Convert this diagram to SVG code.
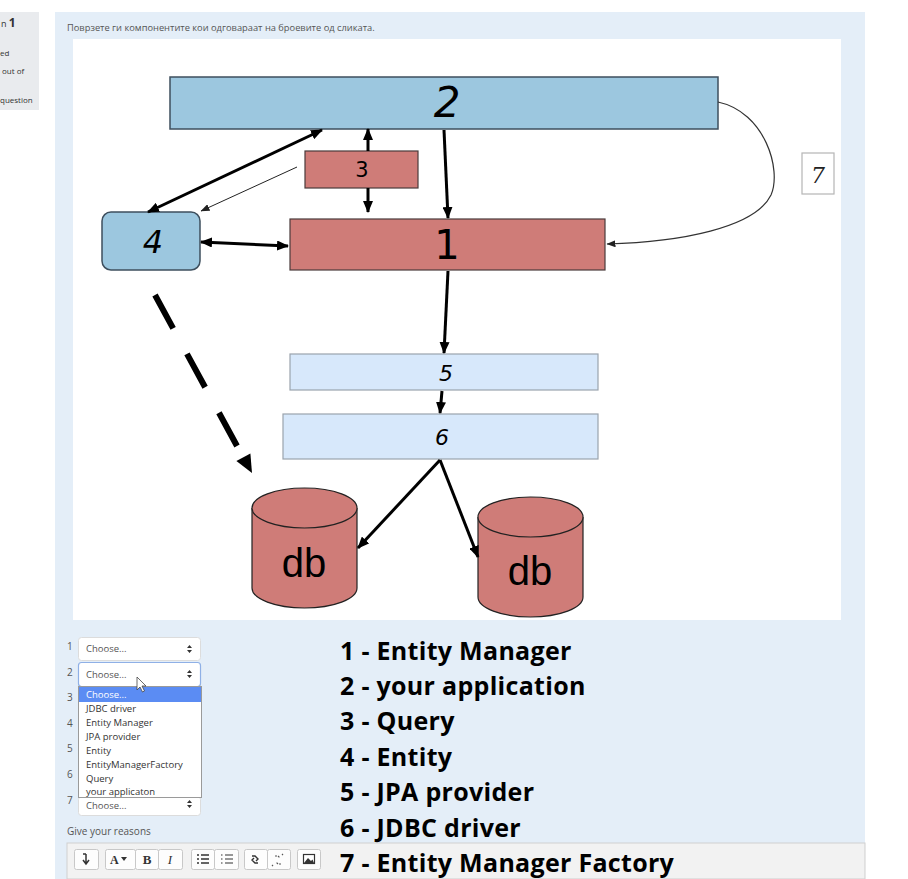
<svg xmlns="http://www.w3.org/2000/svg" width="908" height="879" viewBox="0 0 908 879">
<defs>
<style>
.n2{fill:#9cc7df;stroke:#3e4f5e;stroke-width:1.5}
.nr{fill:#cf7c78;stroke:#4a3b3b;stroke-width:1.2}
.nl{fill:#d7e8fb;stroke:#9aa3ad;stroke-width:1.2}
.lbl{font-family:"DejaVu Sans",sans-serif;fill:#000;text-anchor:middle}
.it{font-style:italic}
.db{fill:#cf7c78;stroke:#222;stroke-width:1.2}
.dbt{font-family:"Liberation Sans",Arial,sans-serif;font-size:40px;fill:#000;text-anchor:middle}
.th{stroke:#000;stroke-width:3;fill:none}
.tn{stroke:#222;stroke-width:1;fill:none}
.frm{font-family:"Open Sans","Noto Sans",sans-serif;font-size:10px;fill:#555}
.ch{font-family:"Open Sans","Noto Sans",sans-serif;font-size:9.5px;fill:#555}
.opt{font-family:"Open Sans","Noto Sans",sans-serif;font-size:9.5px;fill:#333}
.ttl{font-family:"Open Sans","Noto Sans",sans-serif;font-size:9.3px;fill:#555}
.sel{fill:#fff;stroke:#dcdcdc;stroke-width:1}
.big{font-family:"Open Sans","Noto Sans",sans-serif;font-weight:bold;font-size:25px;letter-spacing:0.3px;fill:#000}
.btn{fill:#fdfdfd;stroke:#c8c8c8;stroke-width:1}
</style>
<marker id="a" viewBox="0 0 12 10" refX="11" refY="5" markerWidth="12" markerHeight="10" markerUnits="userSpaceOnUse" orient="auto-start-reverse"><path d="M0,0 L12,5 L0,10 z" fill="#000"/></marker>
<marker id="s" viewBox="0 0 9 7" refX="8.5" refY="3.5" markerWidth="9" markerHeight="7" markerUnits="userSpaceOnUse" orient="auto-start-reverse"><path d="M0,0 L9,3.5 L0,7 z" fill="#222"/></marker>
</defs>

<rect x="0" y="0" width="908" height="879" fill="#fff"/>
<g id="sidebar">
<rect x="0" y="12" width="39" height="98" fill="#e9ebee"/>
<text x="1" y="27" font-family="Open Sans,sans-serif" font-size="9" fill="#333">n <tspan font-weight="bold" font-size="12">1</tspan></text>
<text x="0" y="56" font-family="Open Sans,sans-serif" font-size="8" fill="#333">ed</text>
<text x="2" y="74" font-family="Open Sans,sans-serif" font-size="8" fill="#333">out of</text>
<text x="0" y="103" font-family="Open Sans,sans-serif" font-size="8" fill="#333">question</text>
</g>
<rect x="55" y="12" width="810" height="867" fill="#e4eef8"/>
<text x="67" y="31" class="ttl">Поврзете ги компонентите кои одговараат на броевите од сликата.</text>
<rect x="73" y="39" width="768" height="581" fill="#fff"/>

<g id="node2"><rect x="170" y="77" width="548" height="52" class="n2"/><text x="447" y="117" class="lbl it" font-size="42">2</text></g>
<g id="node3"><rect x="305" y="151" width="113" height="37" class="nr"/><text x="362" y="177" class="lbl" font-size="21">3</text></g>
<g id="node1"><rect x="290" y="219" width="315" height="51" class="nr"/><text x="447" y="259" class="lbl" font-size="40">1</text></g>
<g id="node4"><rect x="102" y="212" width="98" height="58" rx="9" class="n2"/><text x="153" y="253" class="lbl it" font-size="32">4</text></g>
<g id="node5"><rect x="290" y="354" width="308" height="36" class="nl"/><text x="446" y="381" class="lbl it" font-size="22">5</text></g>
<g id="node6"><rect x="283" y="414" width="315" height="45" class="nl"/><text x="442" y="445" class="lbl it" font-size="22">6</text></g>
<g id="node7"><rect x="802" y="153" width="32" height="41" fill="#fff" stroke="#b5b5b5" stroke-width="1.2"/><text x="818" y="183" font-family="DejaVu Serif,serif" font-style="italic" font-size="22" text-anchor="middle" fill="#222">7</text></g>
<g id="db1"><path d="M252,508 L252,588 A52.5,20 0 0 0 357,588 L357,508" class="db"/><ellipse cx="304.5" cy="508" rx="52.5" ry="20" class="db"/><text x="304" y="577" class="dbt">db</text></g>
<g id="db2"><path d="M478,517 L478,597 A52.5,20 0 0 0 583,597 L583,517" class="db"/><ellipse cx="530.5" cy="517" rx="52.5" ry="20" class="db"/><text x="530" y="585" class="dbt">db</text></g>

<g id="connectors">
<path d="M322,130 L148,212" class="th" marker-start="url(#a)" marker-end="url(#a)"/>
<path d="M297,167 L201,211" class="tn" marker-end="url(#s)"/>
<path d="M368,151 L368,129" class="th" marker-end="url(#a)"/>
<path d="M368,188 L368,212" class="th" marker-end="url(#a)"/>
<path d="M201,242 L288,246" class="th" marker-start="url(#a)" marker-end="url(#a)"/>
<path d="M444,130 L448,218" class="th" marker-end="url(#a)"/>
<path d="M448,271 L444,353" class="th" marker-end="url(#a)"/>
<path d="M442,391 L440,413" class="th" marker-end="url(#a)"/>
<path d="M440,460 L358,548" class="th" marker-end="url(#a)"/>
<path d="M440,460 L478,557" class="th" marker-end="url(#a)"/>
<path d="M718,102 C765,112 782,170 771,195 C755,228 680,242 607,244" stroke="#333" stroke-width="1.2" fill="none" marker-end="url(#s)"/>
<path d="M155,295 L237,446" stroke="#000" stroke-width="6" stroke-dasharray="38 29" fill="none"/>
<polygon points="252,473 250.4,453.4 236.4,461" fill="#000"/>
</g>

<g id="form">
<text x="67" y="650" class="frm">1</text>
<text x="67" y="676" class="frm">2</text>
<text x="67" y="701" class="frm">3</text>
<text x="67" y="727" class="frm">4</text>
<text x="67" y="752" class="frm">5</text>
<text x="67" y="778" class="frm">6</text>
<text x="67" y="804" class="frm">7</text>
<rect x="78.5" y="637.5" width="122" height="23" rx="3" class="sel"/>
<text x="86" y="652" class="ch">Choose...</text>
<path d="M187,648 L189.5,645 L192,648 z M187,650 L189.5,653 L192,650 z" fill="#333"/>
<rect x="78.5" y="662.5" width="122" height="24" rx="3" fill="#fff" stroke="#8fb0e6" stroke-width="1.2"/>
<text x="86" y="678" class="ch">Choose...</text>
<path d="M187,673 L189.5,670 L192,673 z M187,675 L189.5,678 L192,675 z" fill="#333"/>
<rect x="78.5" y="796.5" width="122" height="19" rx="3" class="sel"/>
<text x="86" y="809" class="ch">Choose...</text>
<path d="M187,803 L189.5,800 L192,803 z M187,805 L189.5,808 L192,805 z" fill="#333"/>
<rect x="78.5" y="686.5" width="123" height="111" fill="#fff" stroke="#9a9a9a" stroke-width="1"/>
<rect x="79" y="687" width="122" height="15" fill="#5b8cf3"/>
<text x="86" y="698" class="opt" style="fill:#fff">Choose...</text>
<text x="86" y="711.5" class="opt">JDBC driver</text>
<text x="86" y="725.5" class="opt">Entity Manager</text>
<text x="86" y="739.5" class="opt">JPA provider</text>
<text x="86" y="753.5" class="opt">Entity</text>
<text x="86" y="767.5" class="opt">EntityManagerFactory</text>
<text x="86" y="781.5" class="opt">Query</text>
<text x="86" y="794.5" class="opt">your applicaton</text>
<path d="M137,677 L137,690 L140,687 L142.5,692 L144.5,691 L142,686 L146,686 z" fill="#fff" stroke="#444" stroke-width="0.8"/>
<text x="67" y="835" class="frm">Give your reasons</text>
</g>

<g id="toolbar">
<rect x="67" y="843" width="798" height="36" fill="#f2f2f2" stroke="#cfcfcf" stroke-width="1"/>
<rect x="74.5" y="849.5" width="24" height="20" rx="2" class="btn"/>
<path d="M86,854 L86,863 M83,860 L86,864 L89,860 M83,854 L86,854" stroke="#333" stroke-width="1.5" fill="none"/>
<rect x="105.5" y="849.5" width="30" height="20" rx="2" class="btn"/>
<text x="110" y="864" font-family="Liberation Serif,serif" font-weight="bold" font-size="12" fill="#333">A</text>
<path d="M121,857 L127,857 L124,861 z" fill="#333"/>
<rect x="135.5" y="849.5" width="23" height="20" rx="2" class="btn"/>
<text x="147" y="864" font-family="Liberation Serif,serif" font-weight="bold" font-size="13" fill="#333" text-anchor="middle">B</text>
<rect x="158.5" y="849.5" width="24" height="20" rx="2" class="btn"/>
<text x="170" y="864" font-family="Liberation Serif,serif" font-style="italic" font-size="13" fill="#333" text-anchor="middle">I</text>
<rect x="191.5" y="849.5" width="23" height="20" rx="2" class="btn"/>
<path d="M197,855 h2 M197,859 h2 M197,863 h2 M201,855 h8 M201,859 h8 M201,863 h8" stroke="#333" stroke-width="1.5"/>
<rect x="214.5" y="849.5" width="24" height="20" rx="2" class="btn"/>
<path d="M221,855 h1.5 M221,859 h1.5 M221,863 h1.5 M225,855 h8 M225,859 h8 M225,863 h8" stroke="#333" stroke-width="1.2"/>
<rect x="244.5" y="849.5" width="23" height="20" rx="2" class="btn"/>
<path d="M252,856 l3,0 l3,3 l-2,2 M258,863 l-3,0 l-3,-3 l2,-2" stroke="#333" stroke-width="1.4" fill="none"/>
<rect x="267.5" y="849.5" width="23" height="20" rx="2" class="btn"/>
<path d="M275,856 l3,0 l1.5,1.5 M281,864 l-3,0 l-1.5,-1.5 M282,855 l1,-1 M273,865 l-1,1" stroke="#555" stroke-width="1.2" fill="none" stroke-dasharray="2 1"/>
<rect x="297.5" y="849.5" width="23" height="20" rx="2" class="btn"/>
<rect x="303.5" y="854.5" width="11" height="9" fill="#fff" stroke="#333" stroke-width="1.2"/>
<path d="M304,863 L308,858 L311,861 L312.5,859.5 L314,863 z" fill="#333"/>
</g>

<g id="legend">
<text x="340" y="660" class="big">1 - Entity Manager</text>
<text x="340" y="695" class="big">2 - your application</text>
<text x="340" y="730" class="big">3 - Query</text>
<text x="340" y="766" class="big">4 - Entity</text>
<text x="340" y="801" class="big">5 - JPA provider</text>
<text x="340" y="837" class="big">6 - JDBC driver</text>
<text x="340" y="872" class="big">7 - Entity Manager Factory</text>
</g>
</svg>
